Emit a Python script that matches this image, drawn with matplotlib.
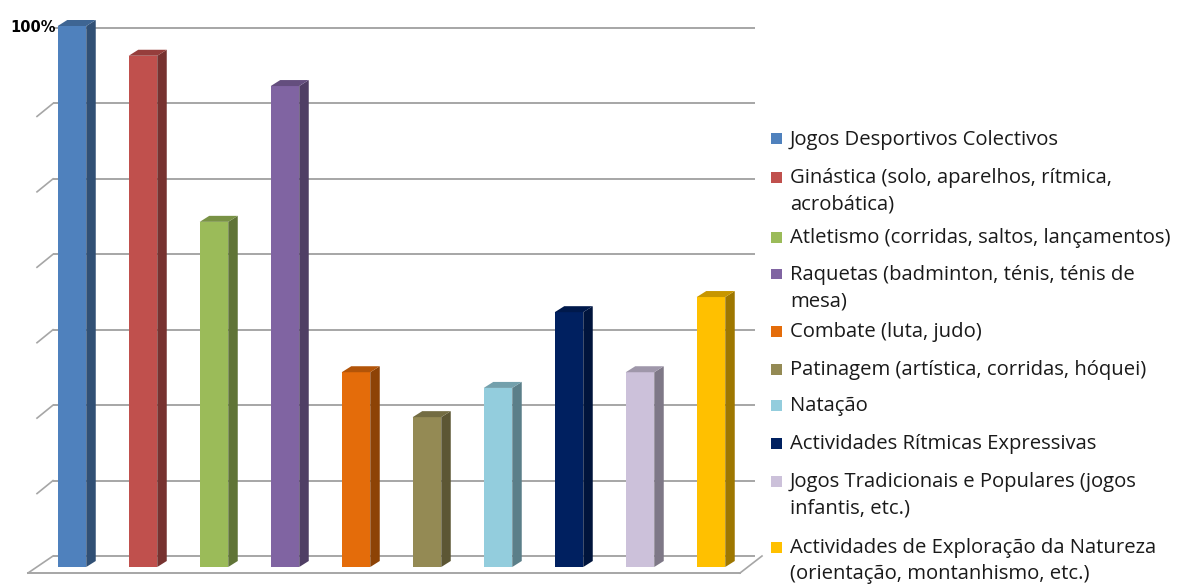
import numpy as np
import matplotlib
matplotlib.use('Agg')
import matplotlib.pyplot as plt
from matplotlib.patches import Polygon, Rectangle
from matplotlib import colors as mcolors

# chart data (percent of respondents)
categories = [
    'Jogos Desportivos Colectivos',
    'Ginástica (solo, aparelhos, rítmica,\nacrobática)',
    'Atletismo (corridas, saltos, lançamentos)',
    'Raquetas (badminton, ténis, ténis de\nmesa)',
    'Combate (luta, judo)',
    'Patinagem (artística, corridas, hóquei)',
    'Natação',
    'Actividades Rítmicas Expressivas',
    'Jogos Tradicionais e Populares (jogos\ninfantis, etc.)',
    'Actividades de Exploração da Natureza\n(orientação, montanhismo, etc.)',
]
values = [100, 94.5, 63.8, 88.9, 36.0, 27.7, 33.1, 47.1, 36.0, 49.9]
bar_colors = ['#4F81BD', '#C0504D', '#9BBB59', '#8064A2', '#E46C0A',
              '#948A54', '#93CDDD', '#002060', '#CCC1DA', '#FFC000']
top_label = '100%'

W, H = 1181, 586

# pixel layout of the pseudo-3d plot
x0_px, x_step_px = 72, 71.0      # centre of first bar, bar spacing
y0_px, y_scale_px = 567, 5.41    # bar base, px per percent


def px_x(px):
    return (px - x0_px) / x_step_px


def px_y(py):
    return (y0_px - py) / y_scale_px


def shade(c, f):
    r, g, b = mcolors.to_rgb(c)
    return (r * f, g * f, b * f)


fig = plt.figure(figsize=(W / 100, H / 100), dpi=100)
ax = fig.add_axes([0, 0, 1, 1])
ax.set_xlim(px_x(0), px_x(W))
ax.set_ylim(px_y(H), px_y(0))
ax.axis('off')

grid_col = '#a6a6a6'
n_grid = 7
wall_left, wall_right = px_x(53), px_x(755)
wall_base, wall_top = px_y(556), px_y(28)
levels = np.linspace(wall_base, wall_top, n_grid + 1)
tick_dx, tick_dy = px_x(37) - px_x(53), px_y(117) - px_y(104)

for k, lv in enumerate(levels):
    ax.plot([wall_left, wall_right], [lv, lv], color=grid_col, lw=1.4,
            solid_capstyle='butt', zorder=1)
    if 0 < k < n_grid:
        ax.plot([wall_left, wall_left + tick_dx], [lv, lv + tick_dy],
                color=grid_col, lw=1.2, zorder=1)

# floor outline
floor_front = px_y(573)
fl, fr = px_x(28), px_x(740)
br = px_x(762)
ax.plot([fl, fr], [floor_front, floor_front], color=grid_col, lw=1.4, zorder=1)
ax.plot([fl, wall_left], [floor_front, wall_base], color=grid_col, lw=1.2, zorder=1)
ax.plot([fr, br], [floor_front, wall_base], color=grid_col, lw=1.2, zorder=1)

# bars: front faces through ax.bar, side and top faces as polygons
x = np.arange(len(values))
bw = 28.5 / x_step_px
dx = 9.5 / x_step_px
dy = 6.0 / y_scale_px
ax.bar(x, values, width=bw, color=bar_colors, zorder=3)
for xi, v, c in zip(x, values, bar_colors):
    r = xi + bw / 2
    l = xi - bw / 2
    side = Polygon([(r, 0), (r + dx, dy), (r + dx, v + dy), (r, v)],
                   closed=True, facecolor=shade(c, 0.62), edgecolor='none', zorder=3)
    top = Polygon([(l, v), (l + dx, v + dy), (r + dx, v + dy), (r, v)],
                  closed=True, facecolor=shade(c, 0.78), edgecolor='none', zorder=3)
    ax.add_patch(side)
    ax.add_patch(top)

ax.text(px_x(10), levels[-1], top_label, fontsize=10.5, fontweight='bold',
        ha='left', va='center', color='black', family='DejaVu Sans')

# legend, drawn by hand so the marker sits on the first line
legend_y_px = [139, 177, 237, 274, 331, 369, 405, 443, 481, 547]
line_px = 26.5
for lab, c, ly in zip(categories, bar_colors, legend_y_px):
    fig.patches.append(Rectangle((771 / W, 1 - (ly + 5.5) / H), 11 / W, 11 / H,
                                 transform=fig.transFigure, facecolor=c,
                                 edgecolor='none'))
    for i, part in enumerate(lab.split('\n')):
        fig.text(790 / W, 1 - (ly + 1 + i * line_px) / H, part, fontsize=14.6,
                 family='Open Sans', ha='left', va='center', color='#1a1a1a')

fig.savefig('out.png', dpi=100)
